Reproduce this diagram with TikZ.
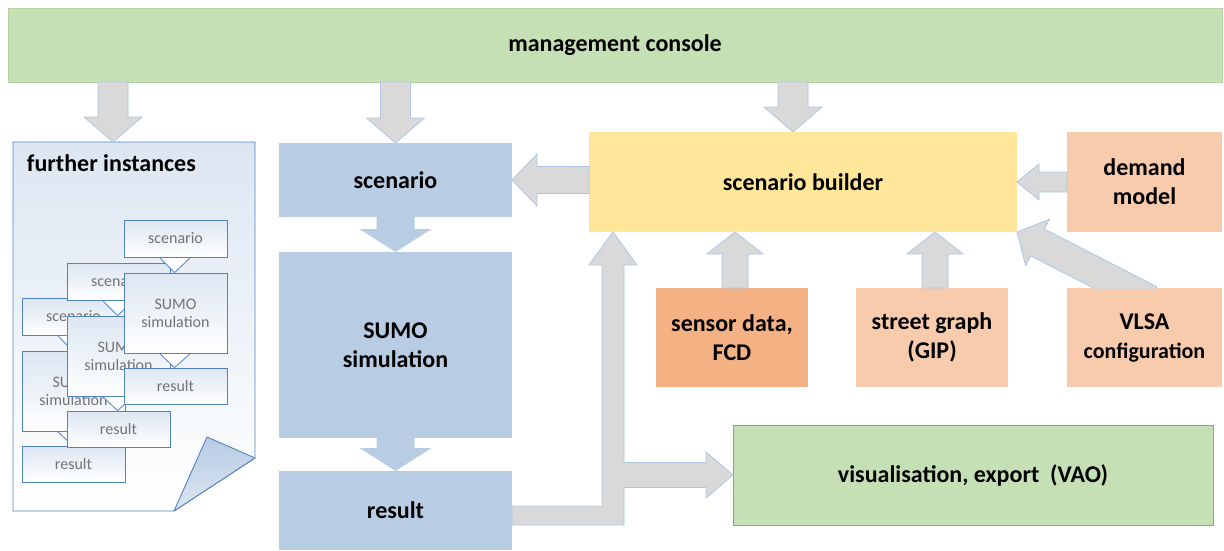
\documentclass[tikz,border=0pt]{standalone}
\usepackage{fontspec}
\setmainfont{Carlito}
\usetikzlibrary{calc}
\definecolor{cgreen}{HTML}{C5E0B4}
\definecolor{cgreenb}{HTML}{B4D29E}
\definecolor{visb}{HTML}{8EAA5C}
\definecolor{cblue}{HTML}{B8CCE4}
\definecolor{cyellow}{HTML}{FFE699}
\definecolor{corange}{HTML}{F4B183}
\definecolor{cpeach}{HTML}{F8CBAD}
\definecolor{agray}{HTML}{D9D9D9}
\definecolor{aedge}{HTML}{AFC6E2}
\definecolor{docb}{HTML}{5282C2}
\definecolor{doctop}{HTML}{DCE6F2}
\definecolor{mtext}{HTML}{737373}
\newcommand\blockarrow[6][]{%
  \path let \p1=#2, \p2=#3 in \pgfextra{%
    \pgfmathsetmacro\baXt{\x1}\xdef\baX{\baXt}%
    \pgfmathsetmacro\baYt{\y1}\xdef\baY{\baYt}%
    \pgfmathsetmacro\baAt{atan2(\y2-\y1,\x2-\x1)}\xdef\baA{\baAt}%
    \pgfmathsetmacro\baLt{veclen(\x2-\x1,\y2-\y1)}\xdef\baL{\baLt}%
  };
  \begin{scope}[shift={(\baX pt,\baY pt)}, rotate=\baA, x=1pt, y=1pt]
    \path[#1] (0,-#4) -- (\baL-#6,-#4) -- (\baL-#6,-#5) -- (\baL,0) -- (\baL-#6,#5) -- (\baL-#6,#4) -- (0,#4) -- cycle;
  \end{scope}}
\tikzset{
  lbl/.style={font=\fontsize{24}{29}\selectfont\bfseries, align=center, inner sep=0pt, outer sep=0pt},
  mainbox/.style={lbl, rectangle, draw=none},
  garrow/.style={fill=agray, draw=aedge, line width=0.8pt, line join=miter},
  barrow/.style={fill=cblue, draw=none},
  docstyle/.style={draw=docb, line width=0.9pt, top color=doctop, bottom color=white},
  foldstyle/.style={draw=docb, line width=0.9pt, top color=cblue, bottom color=doctop, line join=round},
  minibox/.style={draw=docb, line width=0.8pt, top color=doctop, bottom color=white, minimum width=103pt,
     font=\fontsize{16}{18}\selectfont, text=mtext, align=center, inner sep=0pt},
  minitri/.style={draw=docb, line width=0.8pt, fill=white}
}
\begin{document}
\begin{tikzpicture}[x=1pt,y=-1pt]
\useasboundingbox (0,0) rectangle (1224,551);
% main nodes
\node[mainbox, fill=cgreen, draw=cgreenb, line width=0.5pt, minimum width=1214pt, minimum height=74pt] (console) at (615,45) {management console};
\node[mainbox, fill=cblue, minimum width=233pt, minimum height=74pt] (scen) at (395.5,180) {scenario};
\node[mainbox, fill=cblue, minimum width=233pt, minimum height=186pt] (sumo) at (395.5,345) {SUMO\\simulation};
\node[mainbox, fill=cblue, minimum width=233pt, minimum height=79pt] (res) at (395.5,510.5) {result};
\node[mainbox, fill=cyellow, minimum width=428pt, minimum height=100pt] (builder) at (803,182) {scenario builder};
\node[mainbox, fill=cpeach, minimum width=155pt, minimum height=100pt] (demand) at (1144.5,182) {demand\\model};
\node[mainbox, fill=corange, minimum width=152pt, minimum height=99pt] (sensor) at (732,337.5) {sensor data,\\FCD};
\node[mainbox, fill=cpeach, minimum width=152pt, minimum height=99pt] (street) at (932,337.5) {street graph\\(GIP)};
\node[mainbox, fill=cpeach, minimum width=155pt, minimum height=99pt] (vlsa) at (1144.5,337.5) {VLSA\\{\fontsize{22}{29}\selectfont configuration}};
\node[mainbox, fill=cgreen, draw=visb, line width=0.8pt, minimum width=480pt, minimum height=100pt] (vis) at (973,475) {visualisation, export\ \ (VAO)};
% further instances document
\node[minimum width=242pt, minimum height=369pt, inner sep=0pt, outer sep=0pt] (further) at (134,326.5) {};
\draw[docstyle] (further.north west) -- (further.north east) -- ($(further.south east)+(0,-53)$) -- ($(further.south west)+(161,0)$) -- (further.south west) -- cycle;
\draw[foldstyle] ($(further.south east)+(-48,-74)$) -- ($(further.south east)+(0,-53)$) -- ($(further.south west)+(161,0)$) -- cycle;
\node[lbl, anchor=west] (fitext) at (27,163) {further instances};
\foreach \dx/\dy/\n in {-102/78/3, -57/43/2, 0/0/1} {
  \node[minibox, minimum height=37pt] (sc\n) at (175.5+\dx,238.5+\dy) {scenario};
  \node[minibox, minimum height=80pt] (su\n) at (175.5+\dx,313+\dy) {SUMO\\simulation};
  \node[minibox, minimum height=36pt] (re\n) at (175.5+\dx,386+\dy) {result};
  \draw[minitri] ($(sc\n.south)+(-16,0)$) -- ($(sc\n.south)+(15,0)$) -- ($(su\n.north)+(-1,0)$) -- cycle;
  \draw[minitri] ($(su\n.south)+(-16,0)$) -- ($(su\n.south)+(15,0)$) -- ($(re\n.north)+(-1,0)$) -- cycle;
}
% connectors
\coordinate (f1) at ($(further.north)+(-21,0)$);
\coordinate (b1) at ($(builder.north)+(-10,0)$);
\blockarrow[garrow]{(console.south -| f1)}{(f1)}{15}{29}{25}
\blockarrow[garrow]{(console.south -| scen.north)}{(scen.north)}{15}{29}{25}
\blockarrow[garrow]{(console.south -| b1)}{(b1)}{15}{29}{25}
\blockarrow[garrow]{(builder.west |- scen.east)}{(scen.east)}{13.5}{26}{25}
\blockarrow[barrow]{(scen.south)}{(sumo.north)}{19}{36}{23}
\blockarrow[barrow]{(sumo.south)}{(res.north)}{19}{36}{23}
\coordinate (s1) at ($(sensor.north)+(3,0)$);
\coordinate (g1) at ($(street.north)+(3,0)$);
\blockarrow[garrow]{(s1)}{(builder.south -| s1)}{13}{28}{22}
\blockarrow[garrow]{(g1)}{(builder.south -| g1)}{13}{28}{22}
\blockarrow[garrow]{(demand.west)}{(builder.east)}{10}{18}{22}
\coordinate (v1) at ($(vlsa.north)+(5.5,12)$);
\begin{scope}
  \clip (vlsa.north -| 0,0) rectangle (1224,0);
  \blockarrow[garrow]{(v1)}{(builder.south east)}{15}{26}{23}
\end{scope}
\coordinate (T) at ($(builder.south west)+(24,0)$);
\coordinate (Rb) at ($(res.east)+(0,5)$);
\draw[garrow] let \p1=(T), \p2=(Rb), \p3=(vis.west) in
 (\x2,\y2+9.5pt) -- (\x1-11pt,\y2+9.5pt) -- (\x1-11pt,\y1-33pt) -- (\x1-24pt,\y1-33pt) -- (\x1,\y1)
 -- (\x1+24pt,\y1-33pt) -- (\x1+11pt,\y1-33pt) -- (\x1+11pt,\y3+12.5pt) -- (\x3-27pt,\y3+12.5pt)
 -- (\x3-27pt,\y3+23pt) -- (\x3,\y3) -- (\x3-27pt,\y3-23pt) -- (\x3-27pt,\y3-12.5pt)
 -- (\x1+11pt,\y3-12.5pt) -- (\x1+11pt,\y2-9.5pt) -- (\x2,\y2-9.5pt) -- cycle;
\end{tikzpicture}
\end{document}
